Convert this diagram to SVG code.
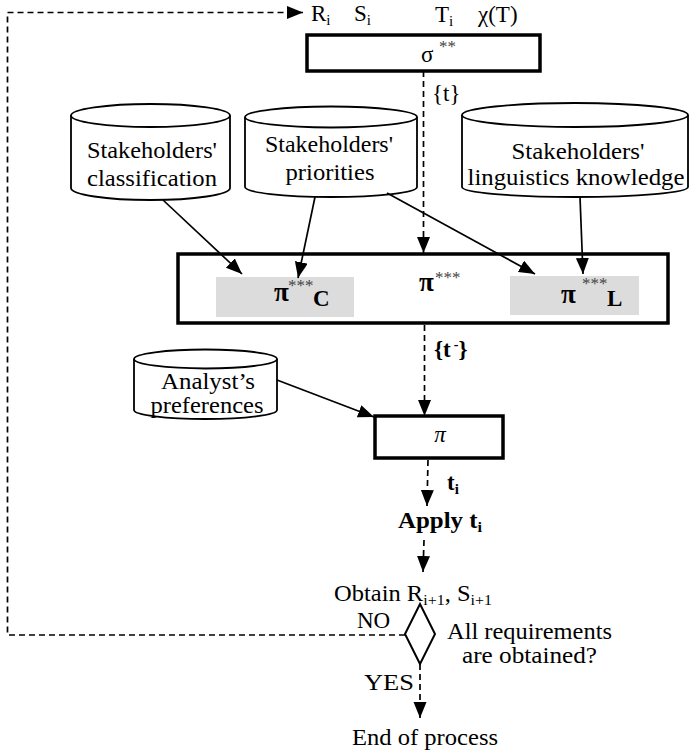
<svg xmlns="http://www.w3.org/2000/svg" width="690" height="754" viewBox="0 0 690 754">
  <style>
    text { font-family: "Liberation Serif", "Times New Roman", serif; font-size: 23px; fill: #000; }
    .b { font-weight: bold; }
    .sub { font-size: 15px; }
    .ast { font-size: 17px; fill: #444; }
    .pi { font-size: 27px; font-weight: bold; }
    .mid { text-anchor: middle; }
    .box { fill: #fff; stroke: #000; stroke-width: 3.5; }
    .cyl { fill: #fff; stroke: #000; stroke-width: 1.8; }
    .shade { fill: #dcdcdc; stroke: none; }
    .solid { stroke: #000; stroke-width: 1.7; fill: none; }
    .dash { stroke: #000; stroke-width: 1.7; fill: none; stroke-dasharray: 6 4; }
  </style>
  <defs>
    <marker id="arrow" markerUnits="userSpaceOnUse" markerWidth="17" markerHeight="14" refX="16" refY="6.5" orient="auto">
      <path d="M0,0 L16,6.5 L0,13 Z" fill="#000"/>
    </marker>
  </defs>

  <!-- input labels -->
  <g id="inputs">
    <text x="311" y="21">R<tspan class="sub" dy="4">i</tspan></text>
    <text x="354" y="21">S<tspan class="sub" dy="4">i</tspan></text>
    <text x="435" y="22">T<tspan class="sub" dy="4">i</tspan></text>
    <text x="478" y="22">χ(T)</text>
  </g>

  <!-- sigma** step -->
  <g id="sigma">
    <rect class="box" x="307" y="35" width="233" height="36"/>
    <text x="421" y="62" font-size="25">σ</text>
    <text class="ast" x="439" y="52" font-size="16">**</text>
  </g>

  <!-- knowledge stores -->
  <g id="store-classification">
    <path class="cyl" d="M71,115.5 L71,188 A79.5,12 0 0 0 230,188 L230,115.5"/>
    <ellipse class="cyl" cx="150.5" cy="115.5" rx="79.5" ry="11.5"/>
    <text class="mid" x="152" y="158" textLength="130" lengthAdjust="spacingAndGlyphs">Stakeholders'</text>
    <text class="mid" x="152" y="186" textLength="130" lengthAdjust="spacingAndGlyphs">classification</text>
  </g>
  <g id="store-priorities">
    <path class="cyl" d="M245,117 L245,187 A86,10 0 0 0 417,187 L417,117"/>
    <ellipse class="cyl" cx="331" cy="117" rx="86" ry="10.5"/>
    <text class="mid" x="329" y="152" textLength="128" lengthAdjust="spacingAndGlyphs">Stakeholders'</text>
    <text class="mid" x="330" y="180" textLength="89" lengthAdjust="spacingAndGlyphs">priorities</text>
  </g>
  <g id="store-linguistics">
    <path class="cyl" d="M462,115 L462,187 A113,10 0 0 0 688,187 L688,115"/>
    <ellipse class="cyl" cx="575" cy="115" rx="113" ry="12"/>
    <text class="mid" x="578" y="159" textLength="133" lengthAdjust="spacingAndGlyphs">Stakeholders'</text>
    <text class="mid" x="576" y="185" textLength="217" lengthAdjust="spacingAndGlyphs">linguistics knowledge</text>
  </g>
  <g id="store-analyst">
    <path class="cyl" d="M134,359 L134,410 A71.5,9 0 0 0 277,410 L277,359"/>
    <ellipse class="cyl" cx="205.5" cy="359" rx="71.5" ry="9.5"/>
    <text class="mid" x="208" y="389" textLength="94" lengthAdjust="spacingAndGlyphs">Analyst’s</text>
    <text class="mid" x="207" y="413" textLength="113" lengthAdjust="spacingAndGlyphs">preferences</text>
  </g>

  <!-- pi*** step with its two sub-filters -->
  <g id="pi3">
    <rect class="box" x="178" y="254" width="490" height="69"/>
    <rect class="shade" x="216" y="277" width="138" height="40"/>
    <rect class="shade" x="510" y="276" width="129" height="39"/>
    <text class="pi" x="419" y="291">π</text>
    <text class="ast" x="435" y="283">***</text>
    <text class="pi" x="274" y="301">π</text>
    <text class="ast" x="288" y="291">***</text>
    <text class="b" x="313" y="306" font-size="16">C</text>
    <text class="pi" x="561" y="303">π</text>
    <text class="ast" x="582" y="289">***</text>
    <text class="b" x="607" y="306" font-size="16">L</text>
  </g>

  <!-- pi step -->
  <g id="pi">
    <rect class="box" x="375" y="416" width="128" height="42"/>
    <text class="mid" x="440" y="442" font-size="21" font-style="italic">π</text>
  </g>

  <g id="apply">
    <text class="b" x="398" y="528" textLength="84" lengthAdjust="spacingAndGlyphs">Apply t<tspan class="sub" dy="4">i</tspan></text>
  </g>

  <g id="obtain">
    <text x="334" y="601" textLength="158" lengthAdjust="spacingAndGlyphs">Obtain R<tspan class="sub" dy="4">i+1</tspan><tspan dy="-4">, S</tspan><tspan class="sub" dy="4">i+1</tspan></text>
  </g>

  <g id="decision">
    <path d="M420,604 L435,634 L420,664 L405,634 Z" fill="#fff" stroke="#000" stroke-width="2"/>
    <text x="447" y="639" textLength="165" lengthAdjust="spacingAndGlyphs">All requirements</text>
    <text x="462" y="663" textLength="135" lengthAdjust="spacingAndGlyphs">are obtained?</text>
  </g>

  <g id="end">
    <text class="mid" x="425" y="745" textLength="146" lengthAdjust="spacingAndGlyphs">End of process</text>
  </g>

  <!-- connectors -->
  <g id="connectors">
    <path class="dash" d="M405,635 L7.5,635 L7.5,12.5 L303,12.5" marker-end="url(#arrow)"/>
    <path class="dash" d="M423.5,71 L423.5,253" marker-end="url(#arrow)"/>
    <path class="solid" d="M163,200 L242,274" marker-end="url(#arrow)"/>
    <path class="solid" d="M315,197 L298,278" marker-end="url(#arrow)"/>
    <path class="solid" d="M387,193 L535,274" marker-end="url(#arrow)"/>
    <path class="solid" d="M580,197 L583,274" marker-end="url(#arrow)"/>
    <path class="dash" d="M424.5,325 L424.5,416" marker-end="url(#arrow)"/>
    <path class="solid" d="M277,380 L374,417" marker-end="url(#arrow)"/>
    <path class="dash" d="M428,460 L427,506" marker-end="url(#arrow)"/>
    <path class="dash" d="M424,540 L423,572" marker-end="url(#arrow)"/>
    <path class="dash" d="M420,664 L420,718" marker-end="url(#arrow)"/>
  </g>

  <!-- connector labels -->
  <g id="labels">
    <text x="432" y="101" font-size="21">{t}</text>
    <text class="b" x="434" y="357" font-size="21">{t<tspan font-size="14" dx="3" dy="-8">-</tspan><tspan dy="8">}</tspan></text>
    <text class="b" x="447" y="490">t<tspan class="sub" dy="4">i</tspan></text>
    <text x="357" y="628">NO</text>
    <text x="364" y="690" textLength="50" lengthAdjust="spacingAndGlyphs">YES</text>
  </g>
</svg>
